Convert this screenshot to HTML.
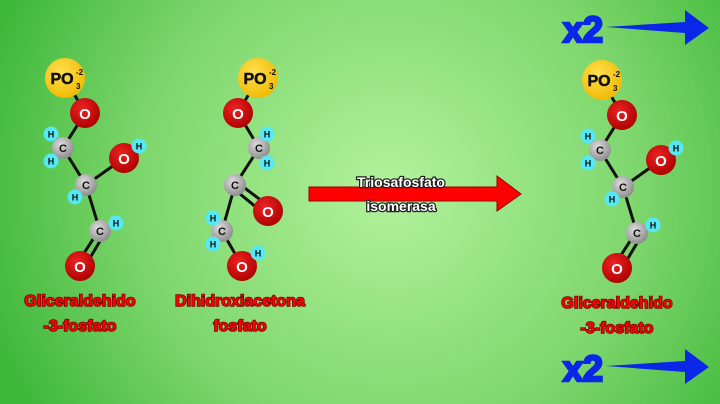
<!DOCTYPE html>
<html><head><style>body{margin:0}svg{display:block}text{font-family:"Liberation Sans",sans-serif;font-weight:bold}</style></head><body>
<svg width="720" height="404" xmlns="http://www.w3.org/2000/svg">
<defs>
<radialGradient id="bg" cx="390" cy="190" r="420" gradientUnits="userSpaceOnUse">
<stop offset="0" stop-color="#b2f29c"/><stop offset="0.6" stop-color="#7dd66c"/><stop offset="1" stop-color="#3fb83a"/></radialGradient>
<radialGradient id="gO" cx="0.4" cy="0.35" r="0.7"><stop offset="0" stop-color="#e22"/><stop offset="1" stop-color="#a00"/></radialGradient>
<radialGradient id="gC" cx="0.4" cy="0.35" r="0.7"><stop offset="0" stop-color="#ddd"/><stop offset="1" stop-color="#888"/></radialGradient>
<radialGradient id="gP" cx="0.4" cy="0.35" r="0.7"><stop offset="0" stop-color="#ffe050"/><stop offset="1" stop-color="#f0b800"/></radialGradient>
<g id="P"><circle r="20" fill="url(#gP)"/><text x="-3" y="6" font-size="16" text-anchor="middle" fill="#111" stroke="#111" stroke-width="0.5">PO</text><text x="11" y="11" font-size="8" fill="#111">3</text><text x="11" y="-3" font-size="8" fill="#111">-2</text></g>
<g id="O"><circle r="15" fill="url(#gO)"/><text y="6" font-size="15" text-anchor="middle" fill="#fff">O</text></g>
<g id="C"><circle r="11" fill="url(#gC)"/><text y="4" font-size="11" text-anchor="middle" fill="#111">C</text></g>
<g id="H"><circle r="7.5" fill="#55e8f5"/><text y="3.5" font-size="9" text-anchor="middle" fill="#111">H</text></g>
<g id="mol1">
<g stroke="#111" stroke-width="3" fill="none">
<path d="M65 78L85 113L63 148L86 185L124 158M86 185L100 231M63 148L51 134M63 148L51 161M86 185L75 197M100 231L116 223M124 158L139 146"/>
<path d="M97 233L77 264M103 236L84 268"/></g>
<use href="#P" x="65" y="78"/><use href="#O" x="85" y="113"/>
<use href="#C" x="63" y="148"/><use href="#H" x="51" y="134"/><use href="#H" x="51" y="161"/>
<use href="#O" x="124" y="158"/><use href="#H" x="139" y="146"/>
<use href="#C" x="86" y="185"/><use href="#H" x="75" y="197"/>
<use href="#C" x="100" y="231"/><use href="#H" x="116" y="223"/>
<use href="#O" x="80" y="266"/>
</g>
</defs>
<rect width="720" height="404" fill="url(#bg)"/>
<use href="#mol1"/>
<use href="#mol1" x="537" y="2"/>
<g stroke="#111" stroke-width="3" fill="none">
<path d="M258 78L238 113L259 148L235 185L222 231L242 266M259 148L267 134M259 148L267 163M222 231L213 218M222 231L213 244M242 266L258 253"/>
<path d="M238 183L266 204M234 189L262 212"/></g>
<use href="#P" x="258" y="78"/><use href="#O" x="238" y="113"/>
<use href="#C" x="259" y="148"/><use href="#H" x="267" y="134"/><use href="#H" x="267" y="163"/>
<use href="#C" x="235" y="185"/><use href="#O" x="268" y="211"/>
<use href="#C" x="222" y="231"/><use href="#H" x="213" y="218"/><use href="#H" x="213" y="244"/>
<use href="#O" x="242" y="266"/><use href="#H" x="258" y="253"/>
<g font-size="16" text-anchor="middle" fill="#f00" stroke="#700" stroke-width="1.6" paint-order="stroke">
<text x="80" y="306">Gliceraldehido</text><text x="80" y="331">-3-fosfato</text>
<text x="240" y="306">Dihidroxiacetona</text><text x="240" y="331">fosfato</text>
<text x="617" y="308">Gliceraldehido</text><text x="617" y="333">-3-fosfato</text>
</g>
<path d="M309 187H497V176L521 194L497 211V201H309Z" fill="#f00" stroke="#900" stroke-width="1"/>
<g font-size="14" text-anchor="middle" fill="#fff" stroke="#222" stroke-width="2.5" paint-order="stroke">
<text x="401" y="187">Triosafosfato</text><text x="401" y="211">isomerasa</text></g>
<g fill="#0a26e6" stroke="#0a26e6">
<text x="583" y="42" font-size="36" text-anchor="middle" stroke-width="2.5">x2</text>
<path d="M606 27L685 22V10L709 28L685 45V33Z" stroke-width="0"/>
<text x="583" y="381" font-size="36" text-anchor="middle" stroke-width="2.5">x2</text>
<path d="M606 366L685 361V349L709 367L685 384V372Z" stroke-width="0"/>
</g>
</svg>
</body></html>
